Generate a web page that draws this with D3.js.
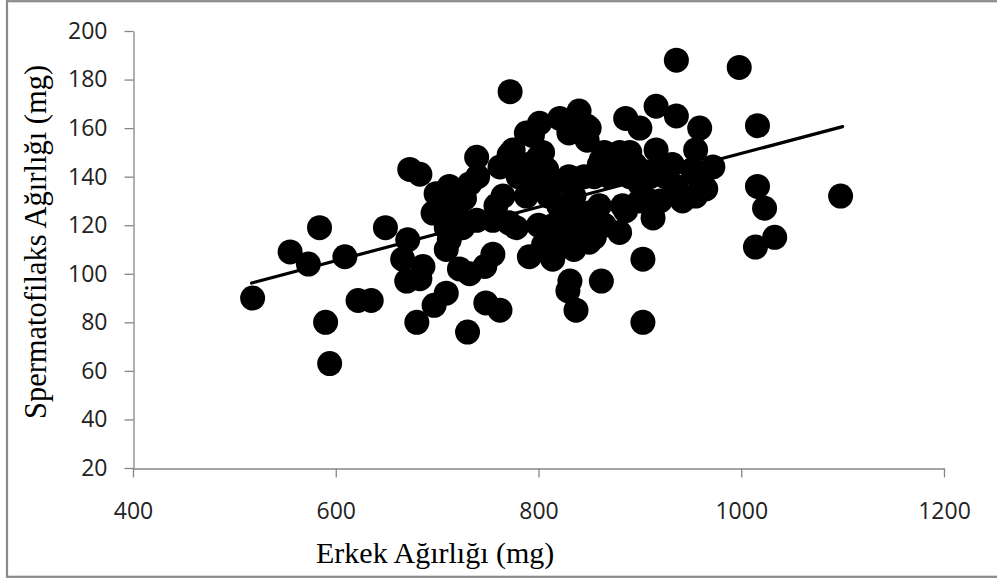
<!DOCTYPE html>
<html>
<head>
<meta charset="utf-8">
<script src="https://cdn.jsdelivr.net/npm/d3@7"></script>
<style>
  body { margin: 0; background: #fff; }
  svg { display: block; }
</style>
</head>
<body>
<div id="chart"></div>
<script>
// Erkek ağırlığı (x, mg) ve spermatofilaks ağırlığı (y, mg)
let erkek = [
  518, 555, 573, 584, 590, 594, 609, 622, 635, 649, 671, 666, 670, 683, 686, 697, 709, 680, 730, 748, 762, 673, 683,
  699, 712, 696, 719, 709, 725, 739, 755, 758, 771, 778, 788, 794, 732, 739, 762, 771, 740, 709, 722, 732, 747, 755, 791, 716, 705, 727, 712,
  772, 775, 801, 821, 840, 847, 794, 804, 788, 886, 900, 916, 936, 936, 998, 1016, 959, 955, 916, 932, 972, 952, 959, 965, 955, 936, 1016, 1023, 1014, 1033, 1098,
  883, 880, 913, 903, 903, 862, 837, 831, 829, 814, 850, 886, 942,
  800, 805, 810, 820, 815, 825, 830, 840, 845, 855, 860, 855, 860, 870, 865, 875, 880, 890, 895, 900, 905, 910, 920, 925, 920, 910, 900,
  800, 808, 830, 842, 848, 850, 862, 872, 880, 890, 845, 835, 825, 830, 850, 800, 805, 820, 835, 840, 865, 780, 765, 790
];
let sperm = [
  90, 109, 104, 119, 80, 63, 107, 89, 89, 119, 114, 106, 97, 98, 103, 87, 92, 80, 76, 88, 85, 143, 141,
  133, 136, 125, 126, 119, 119, 122, 122, 128, 121, 119, 132, 137, 137, 148, 144, 149, 140, 110, 102, 100, 103, 108, 107, 129, 128, 131, 114,
  175, 151, 162, 164, 167, 161, 157, 150, 158, 164, 160, 169, 165, 188, 185, 161, 160, 151, 151, 145, 144, 143, 139, 135, 132, 136, 136, 127, 111, 115, 132,
  128, 117, 123, 106, 80, 97, 85, 97, 93, 106, 113, 126, 130,
  135, 140, 132, 128, 120, 115, 122, 125, 118, 115, 128, 140, 145, 140, 150, 148, 145, 140, 145, 137, 142, 140, 145, 140, 130, 130, 130,
  148, 143, 158, 158, 155, 160, 147, 146, 150, 150, 140, 132, 138, 140, 125, 120, 112, 113, 110, 118, 120, 140, 132, 145
];

// eğilim çizgisi uç noktaları
let trend_x = [517, 1100];
let trend_y = [96.2, 160.6];

let x_ticks = [400, 600, 800, 1000, 1200];
let y_ticks = [20, 40, 60, 80, 100, 120, 140, 160, 180, 200];

let svg_width = 997;
let svg_height = 578;
let axis_color = "#868686";

let svg = d3.select("#chart")
  .append("svg")
    .attr("width", svg_width)
    .attr("height", svg_height)
    .attr("xmlns", "http://www.w3.org/2000/svg");

// dış çerçeve
svg.append("rect")
  .attr("x", 7)
  .attr("y", 1.2)
  .attr("width", 1000)
  .attr("height", 575.6)
  .attr("fill", "#fff")
  .attr("stroke", "#8a8a8a")
  .attr("stroke-width", 2.2);

let x_scale = d3.scaleLinear().domain([400, 1200]).range([133, 944]);
let y_scale = d3.scaleLinear().domain([20, 200]).range([468, 31]);

let y_axis = d3.axisLeft(y_scale)
  .tickValues(y_ticks)
  .tickFormat(d3.format("d"))
  .tickSize(9)
  .tickSizeOuter(0)
  .tickPadding(17);

let x_axis = d3.axisBottom(x_scale)
  .tickValues(x_ticks)
  .tickFormat(d3.format("d"))
  .tickSize(9)
  .tickSizeOuter(0)
  .tickPadding(25);

let gy = svg.append("g")
  .attr("transform", "translate(133.5,0)")
  .call(y_axis);

let gx = svg.append("g")
  .attr("transform", "translate(0,468.5)")
  .call(x_axis);

[gx, gy].forEach(function (g) {
  g.selectAll("path, line").attr("stroke", axis_color).attr("stroke-width", 1.3);
  g.selectAll("text")
    .attr("fill", "#222")
    .style("font-family", "'Open Sans', sans-serif")
    .style("font-size", "23px");
});

// noktalar
let points = erkek.map(function (d, i) { return [d, sperm[i]]; });

svg.append("g")
  .selectAll("circle")
  .data(points)
  .join("circle")
    .attr("cx", d => x_scale(d[0]))
    .attr("cy", d => y_scale(d[1]))
    .attr("r", 12.5)
    .attr("fill", "#000");

// doğrusal eğilim
svg.append("path")
  .datum(trend_x.map((d, i) => [d, trend_y[i]]))
  .attr("d", d3.line().x(d => x_scale(d[0])).y(d => y_scale(d[1])))
  .attr("fill", "none")
  .attr("stroke", "#000")
  .attr("stroke-width", 3.2)
  .attr("stroke-linecap", "round");

// eksen başlıkları
svg.append("text")
  .attr("x", 316)
  .attr("y", 563)
  .style("font-family", "'Liberation Serif', 'Times New Roman', serif")
  .style("font-size", "30px")
  .attr("fill", "#000")
  .text("Erkek Ağırlığı (mg)");

svg.append("text")
  .attr("transform", "translate(46,242) rotate(-90)")
  .attr("text-anchor", "middle")
  .style("font-family", "'Liberation Serif', 'Times New Roman', serif")
  .style("font-size", "30.5px")
  .attr("fill", "#000")
  .text("Spermatofilaks Ağırlığı (mg)");
</script>
</body>
</html>
